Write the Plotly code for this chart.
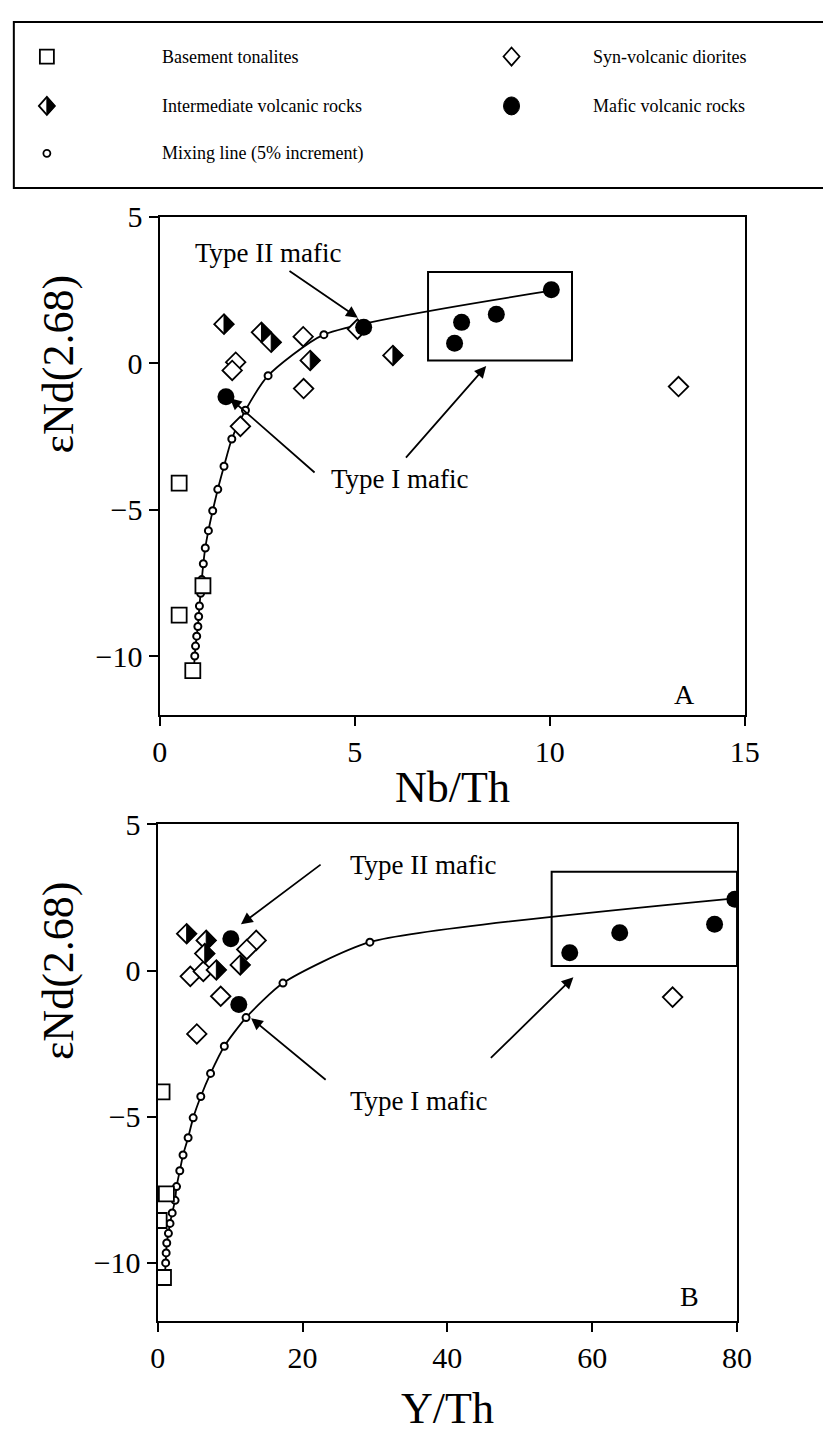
import plotly.graph_objects as go

W, H = 823, 1435
FONT = "Liberation Serif"

# ---------------- data: panel A (Nb/Th) ----------------
tonalite_nbth = [0.5, 1.11, 0.5, 0.85]
tonalite_eps_a = [-4.1, -7.6, -8.6, -10.5]

diorite_nbth = [1.95, 1.86, 3.68, 3.69, 5.07, 2.07, 13.3]
diorite_eps_a = [0.03, -0.25, 0.9, -0.87, 1.16, -2.16, -0.8]

interm_nbth = [1.65, 2.61, 2.86, 3.86, 5.98]
interm_eps_a = [1.33, 1.05, 0.71, 0.09, 0.26]

mafic_nbth = [1.70, 5.23, 7.56, 7.74, 8.63, 10.04]
mafic_eps_a = [-1.15, 1.22, 0.68, 1.39, 1.67, 2.5]

mix_eps = [-10.4, -10.0, -9.66, -9.32, -8.99, -8.65, -8.29, -7.86, -7.39, -6.85,
           -6.31, -5.72, -5.04, -4.31, -3.52, -2.59, -1.61, -0.43, 0.97, 2.47]
mix_nbth = [0.88, 0.9, 0.92, 0.95, 0.98, 1.0, 1.02, 1.05, 1.08, 1.12,
            1.17, 1.25, 1.36, 1.49, 1.65, 1.85, 2.2, 2.78, 4.21, 10.04]

# ---------------- data: panel B (Y/Th) ----------------
tonalite_yth = [0.6, 1.2, 0.2, 0.8]
tonalite_eps_b = [-4.15, -7.64, -8.55, -10.5]

diorite_yth = [13.6, 12.3, 4.5, 6.3, 8.7, 5.4, 71.1]
diorite_eps_b = [1.03, 0.72, -0.2, -0.03, -0.88, -2.17, -0.91]

interm_yth = [4.0, 6.7, 6.5, 11.4, 8.1]
interm_eps_b = [1.26, 1.03, 0.58, 0.19, 0.02]

mafic_yth = [11.2, 10.1, 56.9, 63.8, 76.9, 79.7]
mafic_eps_b = [-1.16, 1.09, 0.61, 1.29, 1.58, 2.44]

mix_yth = [1.0, 1.1, 1.17, 1.25, 1.48, 1.7, 2.0, 2.4, 2.6, 3.05,
           3.5, 4.2, 4.9, 5.95, 7.3, 9.2, 12.2, 17.3, 29.3, 79.7]

# boxes around Type II mafic samples
box_a = dict(x0=6.88, x1=10.57, y0=0.09, y1=3.11)
box_b = dict(x0=54.4, x1=80.0, y0=0.15, y1=3.38)

legend_labels = ["Basement tonalites", "Syn-volcanic diorites",
                 "Intermediate volcanic rocks", "Mafic volcanic rocks",
                 "Mixing line (5% increment)"]

x_ticks_a = [0, 5, 10, 15]
x_ticks_b = [0, 20, 40, 60, 80]
y_ticks = [5, 0, -5, -10]

# ---------------- figure ----------------
fig = go.Figure()

SQ = 15
DM = 15
CI = 17
MX = 7
rd = DM / 2 * 1.3


def add_panel(xs_mix, xs_ton, ys_ton, xs_dio, ys_dio, xs_int, ys_int, xs_maf, ys_maf, xa, ya):
    fig.add_trace(go.Scatter(x=xs_mix, y=mix_eps, mode="lines+markers", xaxis=xa, yaxis=ya,
                             line=dict(color="black", width=1.8, shape="spline", smoothing=0.6),
                             marker=dict(symbol="circle", size=MX, color="white",
                                         line=dict(color="black", width=2)),
                             showlegend=False, hoverinfo="skip"))
    fig.add_trace(go.Scatter(x=xs_ton, y=ys_ton, mode="markers", xaxis=xa, yaxis=ya,
                             marker=dict(symbol="square", size=SQ, color="white",
                                         line=dict(color="black", width=1.8)),
                             showlegend=False))
    fig.add_trace(go.Scatter(x=xs_dio, y=ys_dio, mode="markers", xaxis=xa, yaxis=ya,
                             marker=dict(symbol="diamond", size=DM, color="white",
                                         line=dict(color="black", width=1.8)),
                             showlegend=False))
    fig.add_trace(go.Scatter(x=xs_int, y=ys_int, mode="markers", xaxis=xa, yaxis=ya,
                             marker=dict(symbol="diamond", size=DM, color="white",
                                         line=dict(color="black", width=1.8)),
                             showlegend=False))
    fig.add_trace(go.Scatter(x=xs_maf, y=ys_maf, mode="markers", xaxis=xa, yaxis=ya,
                             marker=dict(symbol="circle", size=CI, color="black",
                                         line=dict(color="black", width=0)),
                             showlegend=False))
    # right half of the intermediate diamonds filled black
    for xv, yv in zip(xs_int, ys_int):
        fig.add_shape(type="path", xref=xa, yref=ya, xsizemode="pixel", ysizemode="pixel",
                      xanchor=xv, yanchor=yv,
                      path=f"M0,{rd:.2f} L{rd:.2f},0 L0,{-rd:.2f} Z",
                      fillcolor="black", line=dict(color="black", width=1), layer="above")


add_panel(mix_nbth, tonalite_nbth, tonalite_eps_a, diorite_nbth, diorite_eps_a,
          interm_nbth, interm_eps_a, mafic_nbth, mafic_eps_a, "x", "y")
add_panel(mix_yth, tonalite_yth, tonalite_eps_b, diorite_yth, diorite_eps_b,
          interm_yth, interm_eps_b, mafic_yth, mafic_eps_b, "x2", "y2")

fig.add_shape(type="rect", xref="x", yref="y", line=dict(color="black", width=2), **box_a)
fig.add_shape(type="rect", xref="x2", yref="y2", line=dict(color="black", width=2), **box_b)


def px_x(p):
    return p / W


def px_y(p):
    return 1 - p / H


axis_common = dict(showgrid=False, zeroline=False, ticks="outside", ticklen=9, tickwidth=2,
                   tickcolor="black", linecolor="black", linewidth=2.2, mirror=True,
                   tickfont=dict(family=FONT, size=30, color="black"))

fig.update_layout(
    width=W, height=H, margin=dict(l=0, r=0, t=0, b=0),
    paper_bgcolor="white", plot_bgcolor="white", showlegend=False,
    xaxis=dict(domain=[px_x(156), px_x(758)], range=[0, 15], tickvals=x_ticks_a,
               anchor="y", **axis_common),
    yaxis=dict(domain=[px_y(706), px_y(202)], range=[-12, 5], tickvals=y_ticks,
               anchor="x", **axis_common),
    xaxis2=dict(domain=[px_x(154), px_x(750)], range=[0, 80], tickvals=x_ticks_b,
                anchor="y2", **axis_common),
    yaxis2=dict(domain=[px_y(1320), px_y(817)], range=[-12, 5], tickvals=y_ticks,
                anchor="x2", **axis_common),
)

ann = []
tfont = dict(family=FONT, size=44, color="black")
ann.append(dict(text="Nb/Th", xref="paper", yref="paper", x=px_x(457), y=px_y(780),
                xanchor="center", yanchor="middle", showarrow=False, font=tfont))
ann.append(dict(text="Y/Th", xref="paper", yref="paper", x=px_x(452), y=px_y(1408),
                xanchor="center", yanchor="middle", showarrow=False, font=tfont))
for yc in (351, 965):
    ann.append(dict(text="εNd(2.68)", xref="paper", yref="paper", x=px_x(52), y=px_y(yc),
                    xanchor="center", yanchor="middle", showarrow=False, textangle=-90,
                    font=tfont))

arrow = dict(showarrow=True, arrowhead=2, arrowsize=1.3, arrowwidth=1.8, arrowcolor="black",
             text="")


def arrow_ann(xr, yr, x0, y0, x1, y1, head=True):
    d = dict(arrow)
    d.update(xref=xr, yref=yr, axref=xr, ayref=yr, x=x1, y=y1, ax=x0, ay=y0)
    if not head:
        d["arrowhead"] = 0
    ann.append(d)


def text_ann(xr, yr, x, y, txt, size=27, anchor="left"):
    ann.append(dict(text=txt, xref=xr, yref=yr, x=x, y=y, xanchor=anchor, yanchor="middle",
                    showarrow=False, font=dict(family=FONT, size=size, color="black")))


# panel A annotations
text_ann("x", "y", 0.85, 3.75, "Type II mafic")
arrow_ann("x", "y", 3.29, 3.18, 5.08, 1.55)
arrow_ann("x", "y", 6.28, -3.28, 8.37, -0.1)
text_ann("x", "y", 4.34, -3.95, "Type I mafic")
arrow_ann("x", "y", 4.01, -3.78, 1.8, -1.2)
text_ann("x", "y", 13.46, -11.3, "A", size=28, anchor="center")
# panel B annotations
text_ann("x2", "y2", 26.3, 3.61, "Type II mafic")
arrow_ann("x2", "y2", 22.7, 3.66, 11.5, 1.58)
arrow_ann("x2", "y2", 45.8, -3.04, 57.4, -0.23)
text_ann("x2", "y2", 26.3, -4.46, "Type I mafic")
arrow_ann("x2", "y2", 23.4, -3.78, 12.9, -1.63)
text_ann("x2", "y2", 73.5, -11.15, "B", size=28, anchor="center")

# ---------------- legend box ----------------
lfont = dict(family=FONT, size=18, color="black")
LX1, LX2 = 40, 518
LT1, LT2 = 156, 600
rows = [40, 90, 138]
items = [(LX1, LT1, rows[0], "square", legend_labels[0]),
         (LX2, LT2, rows[0], "diamond", legend_labels[1]),
         (LX1, LT1, rows[1], "half", legend_labels[2]),
         (LX2, LT2, rows[1], "dot", legend_labels[3]),
         (LX1, LT1, rows[2], "mix", legend_labels[4])]

fig.add_shape(type="rect", xref="paper", yref="paper", x0=px_x(6), x1=px_x(840),
              y0=px_y(173), y1=px_y(5), line=dict(color="black", width=2))

for ix, tx, ry, kind, label in items:
    xa, ya = px_x(ix), px_y(ry)
    common = dict(xref="paper", yref="paper", xsizemode="pixel", ysizemode="pixel",
                  xanchor=xa, yanchor=ya)
    if kind == "square":
        fig.add_shape(type="rect", x0=-7, x1=7, y0=-7, y1=7, fillcolor="white",
                      line=dict(color="black", width=1.8), **common)
    elif kind == "diamond":
        fig.add_shape(type="path", path="M-8,0 L0,9 L8,0 L0,-9 Z", fillcolor="white",
                      line=dict(color="black", width=1.8), **common)
    elif kind == "half":
        fig.add_shape(type="path", path="M-8,0 L0,9 L8,0 L0,-9 Z", fillcolor="white",
                      line=dict(color="black", width=1.8), **common)
        fig.add_shape(type="path", path="M0,9 L8,0 L0,-9 Z", fillcolor="black",
                      line=dict(color="black", width=1), **common)
    elif kind == "dot":
        fig.add_shape(type="circle", x0=-8, x1=8, y0=-9, y1=9, fillcolor="black",
                      line=dict(color="black", width=1), **common)
    elif kind == "mix":
        fig.add_shape(type="circle", x0=-3.5, x1=3.5, y0=-3.5, y1=3.5, fillcolor="white",
                      line=dict(color="black", width=1.8), **common)
    ann.append(dict(text=label, xref="paper", yref="paper", x=px_x(tx), y=ya,
                    xanchor="left", yanchor="middle", showarrow=False, font=lfont))

fig.update_layout(annotations=ann)
fig.write_html("out.html")
